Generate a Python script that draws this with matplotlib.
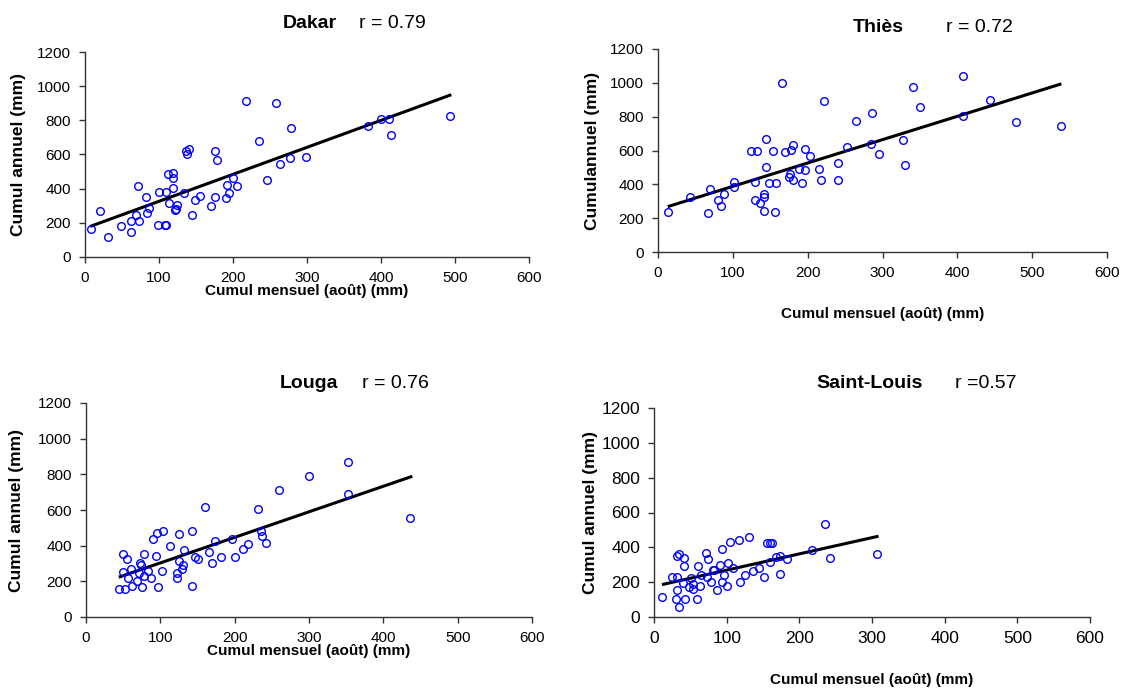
import matplotlib
matplotlib.use("Agg")
import matplotlib.pyplot as plt

plt.rcParams["font.family"] = ["Liberation Sans", "DejaVu Sans"]

# --- données (cumul août vs cumul annuel, mm) ---
dakar_x = [8, 20, 31, 48, 62, 62, 69, 73, 71, 82, 84, 87, 98, 100, 108, 110, 110, 112,
           119, 119, 119, 113, 121, 123, 124, 134, 136, 138, 141, 145, 149, 156, 170,
           175, 175, 178, 190, 195, 192, 200, 205, 217, 235, 246, 258, 264, 277, 279,
           298, 383, 400, 411, 414, 493]
dakar_y = [162, 272, 119, 179, 146, 212, 247, 212, 418, 350, 255, 288, 189, 381, 187,
           187, 381, 485, 494, 465, 401, 315, 278, 280, 307, 374, 623, 603, 630, 247,
           331, 358, 300, 623, 350, 570, 348, 376, 424, 461, 416, 913, 681, 451, 903,
           545, 578, 757, 588, 764, 808, 806, 713, 824]

thies_x = [13, 43, 67, 69, 80, 84, 88, 102, 102, 124, 132, 130, 130, 136, 142, 142,
           142, 144, 144, 148, 154, 156, 158, 166, 170, 175, 177, 178, 180, 180, 188,
           192, 196, 196, 203, 215, 218, 222, 241, 241, 253, 264, 284, 286, 295, 328,
           330, 341, 350, 408, 408, 444, 479, 538]
thies_y = [237, 324, 229, 375, 306, 272, 340, 411, 387, 600, 600, 415, 306, 288, 342,
           324, 245, 503, 667, 409, 600, 237, 409, 997, 592, 442, 462, 604, 634, 426,
           493, 409, 486, 608, 565, 493, 426, 894, 529, 426, 618, 772, 640, 823, 582,
           661, 513, 978, 856, 1040, 805, 899, 771, 744]

louga_x = [44, 52, 50, 55, 50, 57, 61, 62, 69, 73, 74, 71, 76, 78, 78, 83, 87, 90, 94,
           95, 97, 102, 104, 113, 123, 123, 125, 125, 129, 131, 132, 142, 142, 146, 151,
           160, 165, 169, 174, 181, 197, 200, 211, 218, 232, 235, 237, 242, 259, 300,
           353, 353, 436]
louga_y = [159, 159, 356, 326, 251, 217, 270, 176, 200, 302, 289, 244, 169, 229, 356,
           259, 219, 440, 341, 472, 169, 259, 482, 399, 217, 244, 463, 315, 270, 290,
           375, 482, 176, 335, 324, 618, 364, 302, 425, 334, 439, 334, 380, 407, 603,
           482, 454, 416, 710, 793, 868, 687, 556]

stlouis_x = [11, 25, 31, 32, 30, 34, 31, 34, 41, 41, 43, 40, 48, 51, 53, 54, 59, 61, 63,
             64, 72, 74, 73, 79, 81, 83, 87, 91, 93, 93, 96, 101, 102, 104, 109, 117,
             118, 125, 131, 136, 145, 151, 155, 159, 159, 162, 168, 174, 174, 183, 217,
             235, 242, 307]
stlouis_y = [115, 232, 232, 157, 105, 56, 349, 359, 336, 292, 105, 196, 173, 226, 159,
             192, 105, 292, 180, 244, 366, 332, 230, 199, 269, 269, 155, 299, 389, 199,
             240, 180, 311, 432, 282, 441, 199, 240, 458, 263, 282, 232, 426, 313, 424,
             424, 345, 353, 249, 332, 386, 533, 341, 359]

# droites de tendance (extrémités)
trend_x = {"Dakar": [7, 495], "Thiès": [13, 539], "Louga": [44, 439], "Saint-Louis": [11, 309]}
trend_y = {"Dakar": [179, 950], "Thiès": [268, 994], "Louga": [223, 789], "Saint-Louis": [186, 464]}

stations = ["Dakar", "Thiès", "Louga", "Saint-Louis"]
r_labels = ["r = 0.79", "r = 0.72", "r = 0.76", "r =0.57"]
y_labels = ["Cumul annuel (mm)", "Cumulannuel (mm)", "Cumul annuel (mm)", "Cumul annuel (mm)"]
x_label = "Cumul mensuel (août) (mm)"
series = {"Dakar": (dakar_x, dakar_y), "Thiès": (thies_x, thies_y),
          "Louga": (louga_x, louga_y), "Saint-Louis": (stlouis_x, stlouis_y)}

W, H = 1125, 690
# (gauche, droite, haut, bas) en pixels ; positions des textes
BOXES = [(85, 529, 52, 257), (658, 1107, 49, 252), (86, 532, 403, 617), (654, 1090, 408, 617)]
TITLE_POS = [(283, 359, 23), (853, 946, 27), (280, 362, 384), (816, 955, 383)]
YLAB_POS = [19, 592, 17, 590]
XLAB_Y = [291, 314, 651, 680]
TICK_FS = [11, 11, 11, 12.5]

fig = plt.figure(figsize=(W / 100, H / 100), dpi=100)

for i, name in enumerate(stations):
    l, r, t, b = BOXES[i]
    ax = fig.add_axes([l / W, 1 - b / H, (r - l) / W, (b - t) / H])
    xs, ys = series[name]
    ax.plot(trend_x[name], trend_y[name], color="black", lw=2.2, solid_capstyle="butt", zorder=2)
    ax.plot(xs, ys, "o", ms=5.5, mfc="none", mec="#0000ff", mew=1.0, zorder=3, clip_on=False)
    ax.set_xlim(0, 600)
    ax.set_ylim(0, 1200)
    ax.set_xticks(range(0, 601, 100))
    ax.set_yticks(range(0, 1201, 200))
    for s in ("top", "right"):
        ax.spines[s].set_visible(False)
    for s in ("left", "bottom"):
        ax.spines[s].set_color("#333333")
        ax.spines[s].set_linewidth(1.0)
    ax.tick_params(direction="out", length=4, width=1, color="#333333",
                   labelsize=TICK_FS[i])
    ax.tick_params(axis="y", pad=6)
    ax.tick_params(axis="x", pad=6)

    tx, rx, ty = TITLE_POS[i]
    fig.text(tx / W, 1 - ty / H, name, fontsize=14, fontweight="bold", va="center", ha="left")
    fig.text(rx / W, 1 - ty / H, r_labels[i], fontsize=14, va="center", ha="left")
    fig.text(YLAB_POS[i] / W, 1 - (t + b) / 2 / H, y_labels[i], fontsize=12.5,
             fontweight="bold", rotation=90, va="center", ha="center")
    fig.text((l + r) / 2 / W, 1 - XLAB_Y[i] / H, x_label, fontsize=11,
             fontweight="bold", va="center", ha="center")

fig.savefig("out.png", dpi=100)
